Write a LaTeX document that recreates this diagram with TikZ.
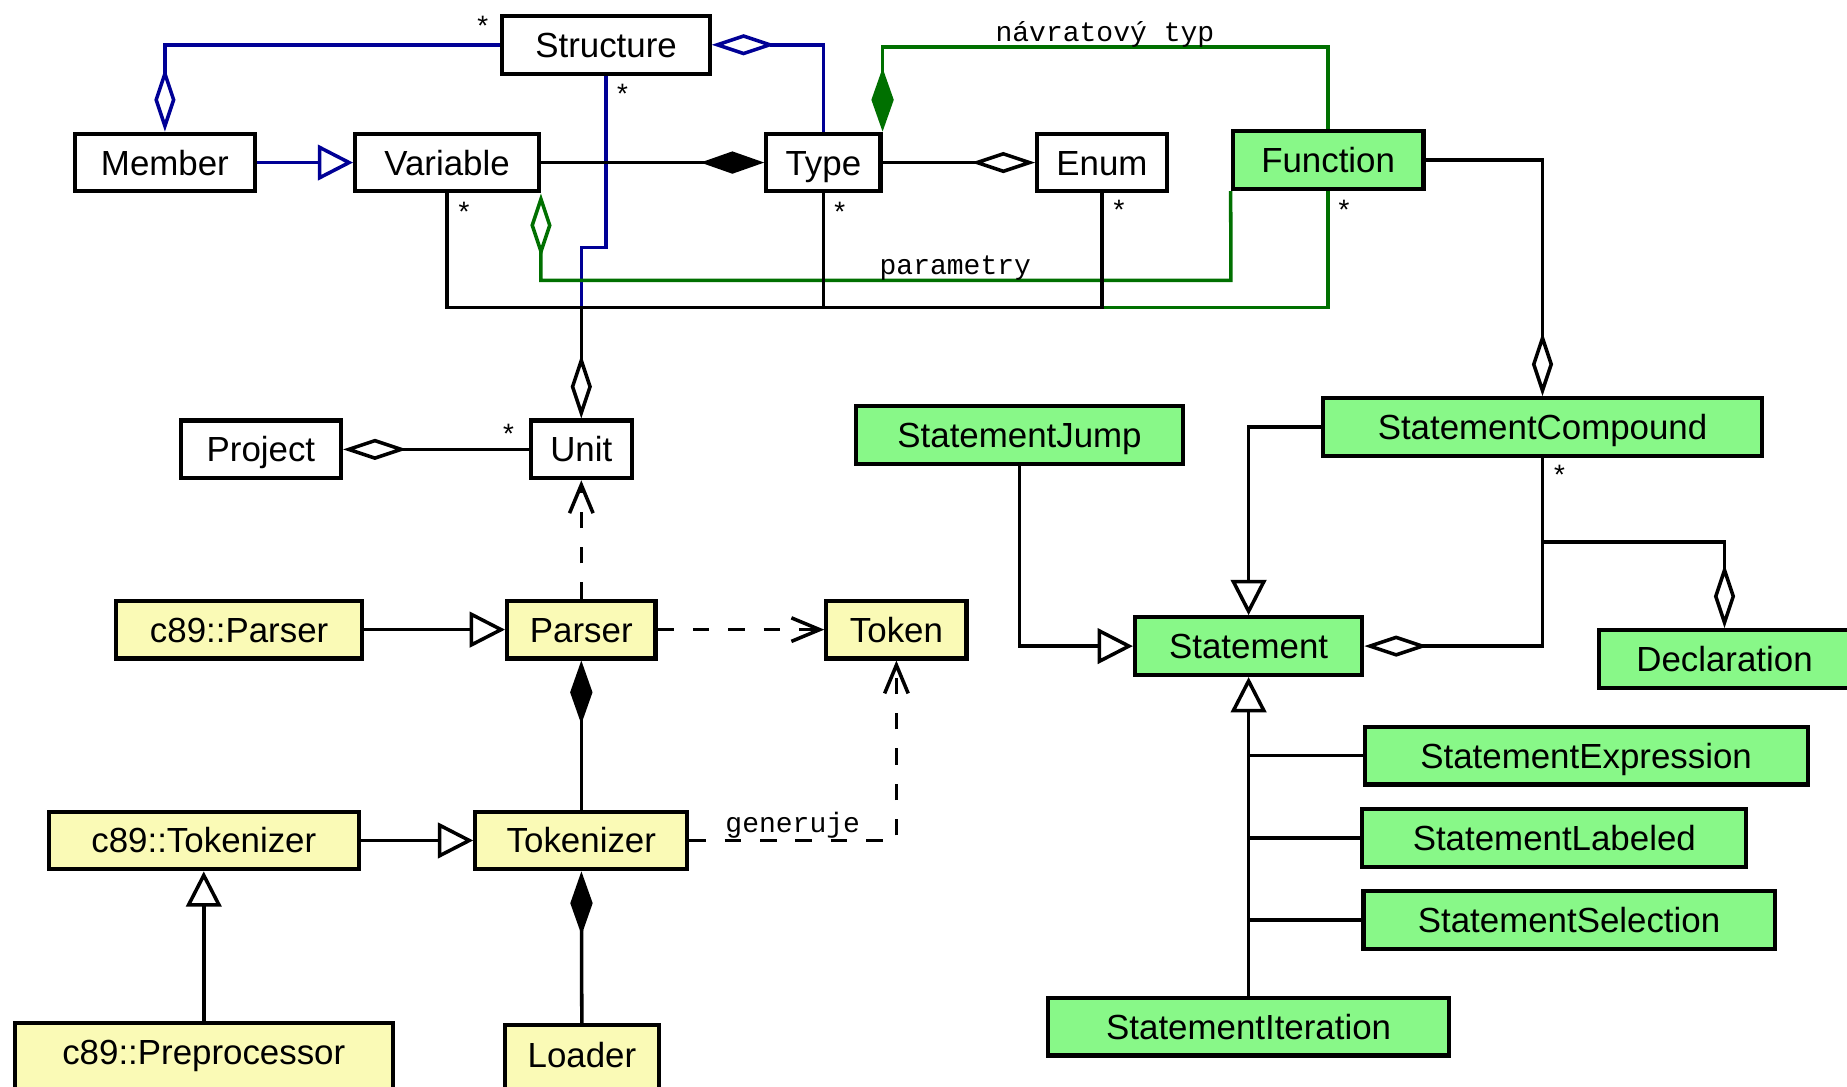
\documentclass[tikz,border=0pt]{standalone}
\usepackage{fontspec}
\setmainfont{Liberation Sans}
\setmonofont{Liberation Mono}
\usepackage{tikz}
\usetikzlibrary{calc}
\usetikzlibrary{arrows.meta}

\definecolor{classgreen}{RGB}{136,248,136}
\definecolor{classyellow}{RGB}{250,250,182}
\definecolor{navyline}{RGB}{0,0,150}
\definecolor{darkgreen}{RGB}{0,112,0}

\newcommand{\classfont}{\fontsize{14.8}{16}\selectfont}
\newcommand{\notefont}{\fontsize{11.9}{13}\selectfont\ttfamily}

\tikzset{
	umlclass/.style={draw, line width=1.75pt, fill=white, inner sep=0pt, minimum height=24.5pt, text height=10.6pt, text depth=0pt, font=\classfont},
	greenclass/.style={umlclass, fill=classgreen},
	yellowclass/.style={umlclass, fill=classyellow},
	conn/.style={line width=1.5pt},
	blueconn/.style={conn, navyline},
	greenconn/.style={conn, darkgreen},
	depconn/.style={conn, dash pattern=on 7pt off 8pt, arrows={-Straight Barb[length=12pt,width=10pt]}},
	aggfrom/.style={arrows={Diamond[fill=white,length=27pt,width=9pt]-}},
	aggto/.style={arrows={-Diamond[fill=white,length=27pt,width=9pt]}},
	compfrom/.style={arrows={Diamond[length=27pt,width=9.5pt]-}},
	compto/.style={arrows={-Diamond[length=27pt,width=9.5pt]}},
	gento/.style={arrows={-Triangle[fill=white,length=15pt,width=15pt]}},
	mult/.style={font=\notefont, inner sep=0pt},
	note/.style={font=\notefont, inner sep=0pt, anchor=base},
}

\begin{document}
\begin{tikzpicture}[x=0.5pt, y=-0.5pt]
	% page frame, boxes at the edges are cut off
	\path[use as bounding box, fill=white] (0,0) rectangle (1568,922);
	\clip (0,0) rectangle (1568,922);

	% model
	\node[umlclass, minimum width=88pt] (structure) at (514.5,38) {Structure};
	\node[umlclass, minimum width=76.5pt] (member) at (140,138) {Member};
	\node[umlclass, minimum width=78pt] (variable) at (379.5,138) {Variable};
	\node[umlclass, minimum width=48.5pt] (type) at (699,138) {Type};
	\node[umlclass, minimum width=55pt] (enum) at (935.5,138) {Enum};
	\node[greenclass, minimum width=81pt] (function) at (1127.5,136) {Function};
	\node[umlclass, minimum width=68pt] (project) at (221.5,381.5) {Project};
	\node[umlclass, minimum width=43pt] (unit) at (493.5,381.5) {Unit};

	% parser
	\node[yellowclass, minimum width=104.5pt] (c89parser) at (203,534.5) {c89::Parser};
	\node[yellowclass, minimum width=63pt] (parser) at (493.5,534.5) {Parser};
	\node[yellowclass, minimum width=59.5pt] (token) at (761,534.5) {Token};
	\node[yellowclass, minimum width=131.5pt] (c89tokenizer) at (173,713.5) {c89::Tokenizer};
	\node[yellowclass, minimum width=90pt] (tokenizer) at (493.5,713.5) {Tokenizer};
	\node[yellowclass, minimum width=160.5pt, minimum height=28pt, text depth=3pt] (c89preproc) at (173,896.5) {c89::Preprocessor};
	\node[yellowclass, minimum width=65.5pt, minimum height=28pt, text depth=3pt] (loader) at (494,898.5) {Loader};

	% statements
	\node[greenclass, minimum width=139pt] (stmtjump) at (865.5,369.5) {StatementJump};
	\node[greenclass, minimum width=186pt] (stmtcompound) at (1309.5,362.5) {StatementCompound};
	\node[greenclass, minimum width=96.5pt] (statement) at (1060,548.5) {Statement};
	\node[greenclass, minimum width=106.5pt] (declaration) at (1464,559.5) {Declaration};
	\node[greenclass, minimum width=188pt] (stmtexpression) at (1346.5,641.5) {StatementExpression};
	\node[greenclass, minimum width=163pt] (stmtlabeled) at (1319.5,711.5) {StatementLabeled};
	\node[greenclass, minimum width=174.5pt] (stmtselection) at (1332,781) {StatementSelection};
	\node[greenclass, minimum width=170pt] (stmtiteration) at (1060,871.5) {StatementIteration};

	\coordinate (bus) at (493.5,261);
	\coordinate (rettop) at (1127.5,40);
	\coordinate (parbottom) at (1045,238);
	\coordinate (declfork) at (1309.5,460);

	% blue part
	\draw[blueconn, aggfrom] (member.north) |- (structure.west);
	\draw[blueconn, aggfrom] (structure.east) -| (type.north);
	\draw[blueconn] (structure.south) |- (493.5,210) -- (bus);
	\draw[blueconn, gento] (member) -- (variable);

	% green part
	\draw[greenconn, compfrom] (type.north east) |- (rettop) -- (function.north);
	\draw[greenconn, aggfrom] (variable.south east) |- (parbottom) -- (function.south west);
	\draw[greenconn] (function.south) |- (enum.south |- bus);
	\node[note] (retlabel) at (938,35) {návratový typ};
	\node[note] (parlabel) at (811,233) {parametry};

	\draw[conn, compto] (variable) -- (type);
	\draw[conn, aggto] (type) -- (enum);
	\draw[conn] (variable.south) |- (bus);
	\draw[conn] (type.south) |- (bus);
	\draw[conn] (enum.south) |- (bus);
	\draw[conn, aggto] (bus) -- (unit.north);
	\draw[conn, aggfrom] (project) -- (unit);

	\draw[depconn] (parser) -- (unit);
	\draw[depconn] (parser) -- (token);
	\draw[depconn] (tokenizer) -| (token);
	\node[note] (genlabel) at (673,707) {generuje};
	\draw[conn, gento] (c89parser) -- (parser);
	\draw[conn, compto] (tokenizer) -- (parser);
	\draw[conn, gento] (c89tokenizer) -- (tokenizer);
	\draw[conn, gento] (c89preproc) -- (c89tokenizer);
	\draw[conn, compto] (loader) -- (tokenizer);

	\draw[conn, aggfrom] (stmtcompound.north) |- (function.east);
	\draw[conn, gento] (stmtjump) |- (statement);
	\draw[conn, gento] (stmtcompound) -| (statement);
	\draw[conn, aggfrom] (statement) -| (stmtcompound);
	\draw[conn, aggto] (declfork) -| (declaration.north);
	\draw[conn, gento] (stmtiteration) -- (statement);
	\draw[conn] (stmtexpression.west) -- (stmtexpression.west -| statement.south);
	\draw[conn] (stmtlabeled.west) -- (stmtlabeled.west -| statement.south);
	\draw[conn] (stmtselection.west) -- (stmtselection.west -| statement.south);

	% multiplicities
	\node[mult] (mstructl) at ($(structure.west)+(-15,-16)$) {*};
	\node[mult] (mstructb) at ($(structure.south)+(14,16)$) {*};
	\node[mult] (mvariable) at ($(variable.south)+(14.5,16)$) {*};
	\node[mult] (mtype) at ($(type.south)+(14,16)$) {*};
	\node[mult] (menum) at ($(enum.south)+(14.5,14)$) {*};
	\node[mult] (mfunction) at ($(function.south)+(13.5,16)$) {*};
	\node[mult] (munit) at ($(unit.west)+(-17,-13)$) {*};
	\node[mult] (mcompound) at ($(stmtcompound.south)+(14.5,15)$) {*};
\end{tikzpicture}
\end{document}
